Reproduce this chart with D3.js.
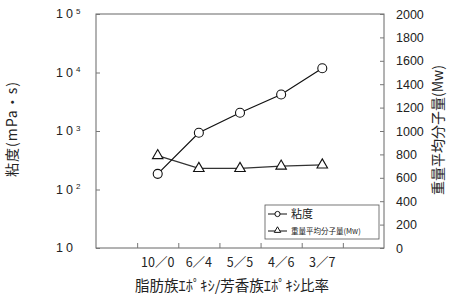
<!DOCTYPE html>
<html>
<head>
<meta charset="utf-8">
<script src="https://cdn.jsdelivr.net/npm/d3@7"></script>
<style>
  body { margin: 0; background: #fff; }
  text { fill: #222; }
</style>
</head>
<body>
<div id="chart"></div>
<script>
// categories and values
var ratios = ["10／0", "6／4", "5／5", "4／6", "3／7"];
var viscosity = [185, 935, 2050, 4200, 11800];     // mPa・s, left log axis
var mw = [790, 680, 680, 700, 710];                  // Mw, right axis
var decades = [10, 100, 1000, 10000, 100000];
var mwTicks = [0, 200, 400, 600, 800, 1000, 1200, 1400, 1600, 1800, 2000];

var W = 450, H = 296;
var margin = {top: 14, right: 66, bottom: 48, left: 96};
var width = W - margin.left - margin.right,
    height = H - margin.top - margin.bottom;

var numFont = "'Liberation Sans', Arial, sans-serif";
var cjkFont = "'Noto Sans CJK JP', sans-serif";
var ink = "#222";

var svg = d3.select("#chart").append("svg")
    .attr("width", W).attr("height", H);
var g = svg.append("g")
    .attr("transform", "translate(" + margin.left + "," + margin.top + ")");

// 7 slots, first and last left empty
var x = d3.scaleBand()
    .domain(["_a"].concat(ratios, ["_b"]))
    .range([0, width]);
var cx = function(d) { return x(d) + x.bandwidth() / 2; };

var yL = d3.scaleLog().domain([10, 100000]).range([height, 0]);
var yR = d3.scaleLinear().domain([0, 2000]).range([height, 0]);

// frame
g.append("rect")
    .attr("width", width).attr("height", height)
    .attr("fill", "none").attr("stroke", "#666").attr("stroke-width", 1);

// left axis: inward minor ticks on log scale
var axL = g.append("g")
    .call(d3.axisLeft(yL).ticks(4).tickSize(-4).tickFormat(""));
axL.select(".domain").remove();
axL.selectAll("line").attr("stroke", "#777");

// left labels 10^n
var lab = g.append("g").attr("font-family", numFont).attr("font-size", 12.5);
decades.forEach(function(v, i) {
  var t = lab.append("text")
      .attr("x", -40).attr("y", yL(v)).attr("dy", "0.35em")
      .attr("letter-spacing", "3px")
      .text("10");
  if (i > 0) {
    t.append("tspan").attr("font-size", 8).attr("dy", "-0.6em")
        .attr("letter-spacing", "0").text(String(Math.log10(v)));
  }
});

// right axis
var axR = g.append("g")
    .attr("transform", "translate(" + width + ",0)")
    .call(d3.axisRight(yR).tickValues(mwTicks).tickSize(-4).tickPadding(12)
      .tickFormat(d3.format("d")));
axR.select(".domain").remove();
axR.selectAll("line").attr("stroke", "#777");
axR.selectAll("text")
    .attr("font-family", numFont).attr("font-size", 12.5).attr("fill", ink);

// bottom axis: ticks on slot boundaries, labels at slot centres
var bounds = x.domain().slice(1).map(function(d) { return x(d); });
var axB = g.append("g")
    .attr("transform", "translate(0," + height + ")")
    .call(d3.axisBottom(d3.scaleLinear().range([0, width]).domain([0, width]))
      .tickValues(bounds).tickSize(-5).tickFormat(""));
axB.select(".domain").remove();
axB.selectAll("line").attr("stroke", "#777");

g.append("g").selectAll("text")
    .data(ratios)
  .enter().append("text")
    .attr("x", cx).attr("y", height + 19)
    .attr("text-anchor", "middle")
    .attr("font-family", cjkFont).attr("font-size", 12.5)
    .text(function(d) { return d; });

// axis titles
g.append("text")
    .attr("x", width / 2 - 8).attr("y", height + 43)
    .attr("text-anchor", "middle")
    .attr("font-family", cjkFont).attr("font-size", 14.5)
    .text("脂肪族ｴﾎﾟｷｼ/芳香族ｴﾎﾟｷｼ比率");

svg.append("text")
    .attr("transform", "translate(17," + 129 + ") rotate(-90)")
    .attr("text-anchor", "middle")
    .attr("font-family", cjkFont).attr("font-size", 14)
    .attr("letter-spacing", "1px")
    .text("粘度(mPa・s)");

svg.append("text")
    .attr("transform", "translate(443," + 130 + ") rotate(-90)")
    .attr("text-anchor", "middle")
    .attr("font-family", cjkFont).attr("font-size", 14)
    .text("重量平均分子量(Mw)");

// series lines
var lineV = d3.line()
    .x(function(d, i) { return cx(ratios[i]); })
    .y(function(d) { return yL(d); });
var lineM = d3.line()
    .x(function(d, i) { return cx(ratios[i]); })
    .y(function(d) { return yR(d); });

g.append("path").datum(mw)
    .attr("d", lineM).attr("fill", "none")
    .attr("stroke", "#333").attr("stroke-width", 1.2);
g.append("path").datum(viscosity)
    .attr("d", lineV).attr("fill", "none")
    .attr("stroke", "#111").attr("stroke-width", 1.2);

var tri = d3.symbol().type(d3.symbolTriangle).size(48);

g.selectAll(".tri")
    .data(mw)
  .enter().append("path")
    .attr("class", "tri")
    .attr("d", tri)
    .attr("transform", function(d, i) {
      return "translate(" + cx(ratios[i]) + "," + yR(d) + ")";
    })
    .attr("fill", "#fff").attr("stroke", "#111").attr("stroke-width", 1.1);

g.selectAll(".dot")
    .data(viscosity)
  .enter().append("circle")
    .attr("class", "dot")
    .attr("cx", function(d, i) { return cx(ratios[i]); })
    .attr("cy", function(d) { return yL(d); })
    .attr("r", 4.5)
    .attr("fill", "#fff").attr("stroke", "#111").attr("stroke-width", 1.1);

// legend
var lg = svg.append("g").attr("transform", "translate(265,205)");
lg.append("rect")
    .attr("width", 114).attr("height", 34)
    .attr("fill", "#fff").attr("stroke", "#555").attr("stroke-width", 0.8);
lg.append("line").attr("x1", 3).attr("x2", 22).attr("y1", 9).attr("y2", 9)
    .attr("stroke", "#111");
lg.append("circle").attr("cx", 12.5).attr("cy", 9).attr("r", 2.6)
    .attr("fill", "#fff").attr("stroke", "#111");
lg.append("text").attr("x", 26).attr("y", 9).attr("dy", "0.35em")
    .attr("font-family", cjkFont).attr("font-size", 11).text("粘度");
lg.append("line").attr("x1", 3).attr("x2", 22).attr("y1", 26).attr("y2", 26)
    .attr("stroke", "#111");
lg.append("path").attr("d", d3.symbol().type(d3.symbolTriangle).size(18))
    .attr("transform", "translate(12.5,25.5)")
    .attr("fill", "#fff").attr("stroke", "#111");
lg.append("text").attr("x", 26).attr("y", 26).attr("dy", "0.35em")
    .attr("font-family", cjkFont).attr("font-size", 7.5)
    .text("重量平均分子量(Mw)");
</script>
</body>
</html>
